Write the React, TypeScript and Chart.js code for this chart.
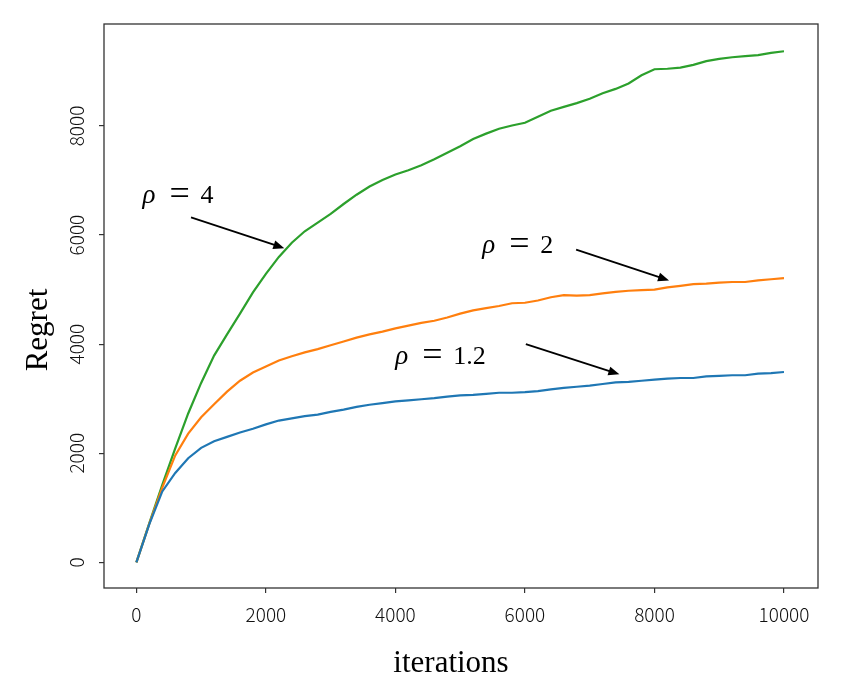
import { useEffect, useRef } from 'react';
import Chart from 'chart.js/auto';

// iteration index (x) shared by all three runs
const iterations = [
  0, 200, 400, 600, 800, 1000, 1200, 1400, 1600, 1800, 2000, 2200, 2400, 2600, 2800, 3000, 3200,
  3400, 3600, 3800, 4000, 4200, 4400, 4600, 4800, 5000, 5200, 5400, 5600, 5800, 6000, 6200, 6400,
  6600, 6800, 7000, 7200, 7400, 7600, 7800, 8000, 8200, 8400, 8600, 8800, 9000, 9200, 9400, 9600,
  9800, 10000,
];

const regretRho12 = [
  0, 700, 1300, 1640, 1910, 2100, 2220, 2300, 2380, 2450, 2530, 2600, 2640, 2680, 2710, 2760, 2800,
  2850, 2890, 2920, 2950, 2970, 2990, 3010, 3040, 3060, 3070, 3090, 3110, 3110, 3120, 3140, 3170,
  3200, 3220, 3240, 3270, 3300, 3310, 3330, 3350, 3370, 3380, 3380, 3410, 3420, 3430, 3430, 3460,
  3470, 3490,
];

const regretRho2 = [
  0, 710, 1370, 1960, 2360, 2660, 2900, 3130, 3330, 3480, 3590, 3700, 3780, 3850, 3910, 3980, 4050,
  4120, 4180, 4230, 4290, 4340, 4390, 4430, 4490, 4560, 4620, 4660, 4700, 4750, 4760, 4800, 4860,
  4900, 4890, 4900, 4930, 4960, 4980, 4990, 5000, 5040, 5070, 5100, 5110, 5130, 5140, 5140, 5170,
  5190, 5210,
];

const regretRho4 = [
  0, 720, 1420, 2090, 2730, 3290, 3790, 4180, 4560, 4950, 5290, 5600, 5860, 6070, 6230, 6390, 6570,
  6740, 6890, 7010, 7110, 7190, 7280, 7390, 7510, 7630, 7760, 7860, 7950, 8010, 8060, 8170, 8280,
  8350, 8420, 8500, 8600, 8680, 8780, 8930, 9040, 9050, 9070, 9120, 9190, 9230, 9260, 9280, 9300,
  9340, 9370,
];

const xTicks = [0, 2000, 4000, 6000, 8000, 10000];
const yTicks = [0, 2000, 4000, 6000, 8000];

// annotation labels and where they sit (data coordinates)
const noteLabels = ['4', '2', '1.2'];
const noteTextAt = [[93, 6594], [5340, 5680], [3997, 3635]];
const noteArrowFrom = [[844, 6325], [6790, 5735], [6014, 4000]];
const noteArrowTo = [[2284, 5759], [8225, 5169], [7458, 3447]];

const toPoints = (ys: number[]) => iterations.map((x, i) => ({ x, y: ys[i] }));

const tickFont = { family: '"Noto Sans CJK SC", "Noto Sans", sans-serif', size: 19, weight: '300' as any };

const framePlugin = {
  id: 'frameAndNotes',
  afterDraw(chart: any) {
    const { ctx, chartArea, scales } = chart;
    const { x, y } = scales;
    ctx.save();

    // full box around the plot
    ctx.strokeStyle = '#333';
    ctx.lineWidth = 1.3;
    ctx.strokeRect(chartArea.left, chartArea.top, chartArea.right - chartArea.left, chartArea.bottom - chartArea.top);

    // rho labels + arrows
    ctx.fillStyle = '#000';
    ctx.strokeStyle = '#000';
    ctx.textBaseline = 'alphabetic';
    ctx.textAlign = 'left';
    noteLabels.forEach((label, i) => {
      const tx = x.getPixelForValue(noteTextAt[i][0]);
      const ty = y.getPixelForValue(noteTextAt[i][1]);
      ctx.font = 'italic 27px "Liberation Serif", serif';
      ctx.fillText('ρ', tx, ty);
      ctx.font = '36px "Liberation Serif", serif';
      ctx.fillText('=', tx + 27, ty + 2);
      ctx.font = '26px "Liberation Serif", serif';
      ctx.fillText(label, tx + 58, ty);

      const x0 = x.getPixelForValue(noteArrowFrom[i][0]);
      const y0 = y.getPixelForValue(noteArrowFrom[i][1]);
      const x1 = x.getPixelForValue(noteArrowTo[i][0]);
      const y1 = y.getPixelForValue(noteArrowTo[i][1]);
      const ang = Math.atan2(y1 - y0, x1 - x0);
      const head = 11;
      ctx.lineWidth = 1.8;
      ctx.beginPath();
      ctx.moveTo(x0, y0);
      ctx.lineTo(x1 - Math.cos(ang) * head * 0.8, y1 - Math.sin(ang) * head * 0.8);
      ctx.stroke();
      ctx.beginPath();
      ctx.moveTo(x1, y1);
      ctx.lineTo(x1 - head * Math.cos(ang) + 4.5 * Math.sin(ang), y1 - head * Math.sin(ang) - 4.5 * Math.cos(ang));
      ctx.lineTo(x1 - head * Math.cos(ang) - 4.5 * Math.sin(ang), y1 - head * Math.sin(ang) + 4.5 * Math.cos(ang));
      ctx.closePath();
      ctx.fill();
    });

    // axis titles
    ctx.font = '31px "Liberation Serif", serif';
    ctx.textAlign = 'center';
    ctx.textBaseline = 'middle';
    ctx.fillText('iterations', 451, 664);
    ctx.translate(39, 330);
    ctx.rotate(-Math.PI / 2);
    ctx.fillText('Regret', 0, 0);

    ctx.restore();
  },
};

export default function App() {
  const canvasRef = useRef<HTMLCanvasElement>(null);

  useEffect(() => {
    if (!canvasRef.current) return;
    const chart = new Chart(canvasRef.current, {
      type: 'line',
      data: {
        datasets: [
          { label: 'rho = 1.2', data: toPoints(regretRho12), borderColor: '#1f77b4', borderWidth: 2.2, pointRadius: 0, tension: 0 },
          { label: 'rho = 2', data: toPoints(regretRho2), borderColor: '#ff7f0e', borderWidth: 2.2, pointRadius: 0, tension: 0 },
          { label: 'rho = 4', data: toPoints(regretRho4), borderColor: '#2ca02c', borderWidth: 2.2, pointRadius: 0, tension: 0 },
        ],
      },
      options: {
        animation: false,
        responsive: true,
        maintainAspectRatio: false,
        layout: { padding: { left: 0, top: 24, right: 24, bottom: 0 } },
        plugins: { legend: { display: false }, tooltip: { enabled: false } },
        scales: {
          x: {
            type: 'linear',
            min: -500,
            max: 10525,
            afterBuildTicks: (scale: any) => {
              scale.ticks = xTicks.map((value) => ({ value }));
            },
            afterFit: (scale: any) => {
              scale.height = 96;
            },
            border: { display: false },
            grid: { drawOnChartArea: false, drawTicks: true, tickLength: 5, color: '#333', lineWidth: 1.2 },
            ticks: {
              color: '#111',
              font: tickFont,
              padding: 10,
              maxRotation: 0,
              callback: (v: any) => String(v),
            },
          },
          y: {
            type: 'linear',
            min: -470,
            max: 9870,
            afterBuildTicks: (scale: any) => {
              scale.ticks = yTicks.map((value) => ({ value }));
            },
            afterFit: (scale: any) => {
              scale.width = 104;
            },
            border: { display: false },
            grid: { drawOnChartArea: false, drawTicks: true, tickLength: 5, color: '#333', lineWidth: 1.2 },
            ticks: {
              color: '#111',
              font: tickFont,
              padding: 2,
              minRotation: 90,
              maxRotation: 90,
              crossAlign: 'center',
              callback: (v: any) => String(v),
            },
          },
        },
      },
      plugins: [framePlugin],
    });
    return () => chart.destroy();
  }, []);

  return (
    <div style={{ position: 'absolute', left: 0, top: 0, width: 842, height: 684, background: '#fff' }}>
      <canvas ref={canvasRef} />
    </div>
  );
}
